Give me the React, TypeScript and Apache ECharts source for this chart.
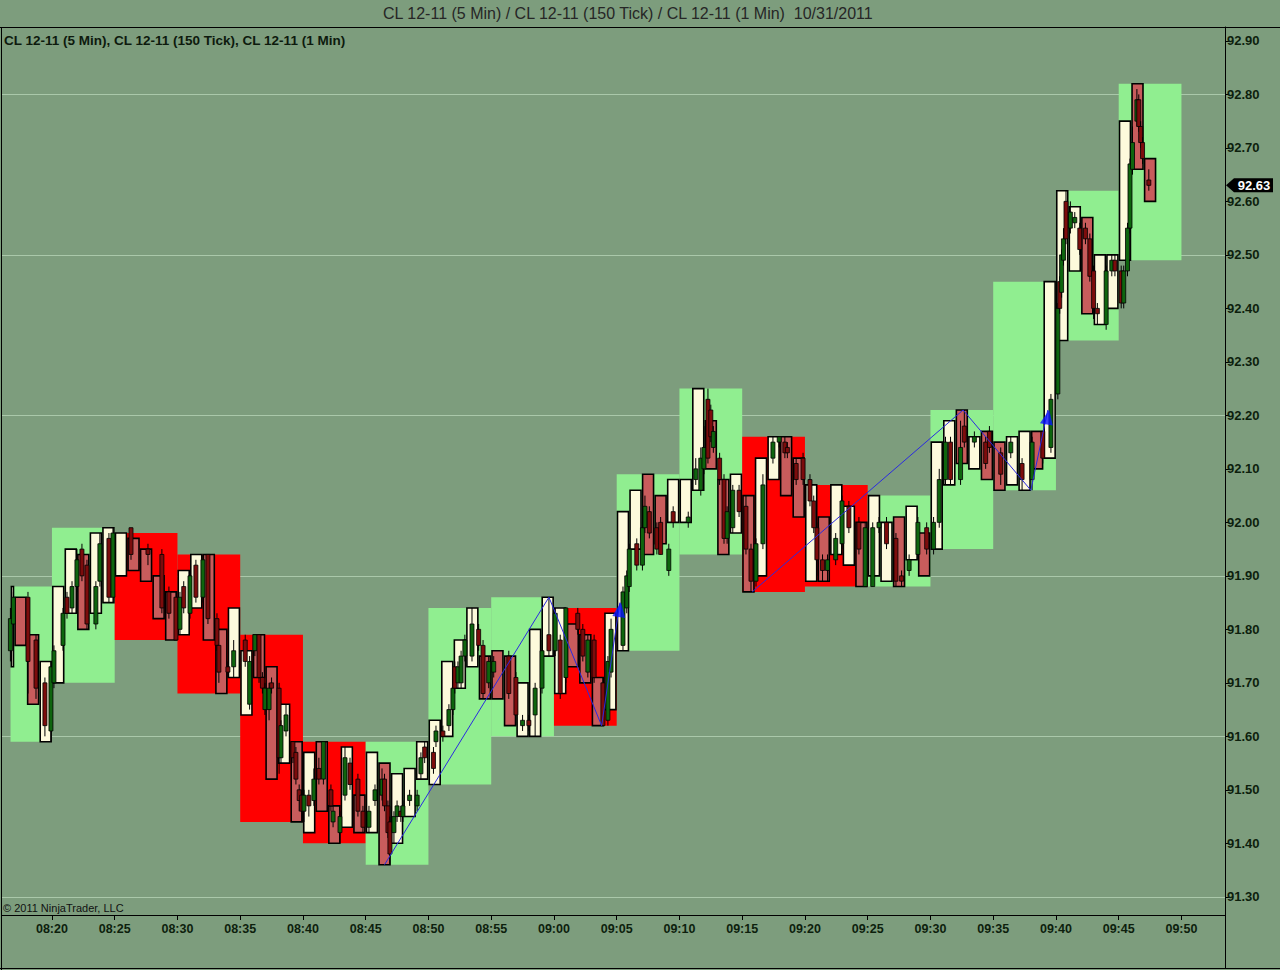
import { useEffect, useRef } from "react";
import * as echarts from "echarts";

const BG = "#7d9d7d";
const FONT = "'Liberation Sans', Arial, sans-serif";

// 5 min bars, drawn as background boxes (x in minutes after 08:00)
const boxStart = [16.7, 20, 25, 30, 35, 40, 45, 50, 55, 60, 65, 70, 75, 80, 85, 90, 95, 100, 105];
const boxHigh = [91.88, 91.99, 91.98, 91.94, 91.79, 91.59, 91.59, 91.84, 91.86, 91.84, 92.09, 92.25, 92.16, 92.07, 92.05, 92.21, 92.45, 92.62, 92.82];
const boxLow = [91.59, 91.70, 91.78, 91.68, 91.44, 91.40, 91.36, 91.51, 91.60, 91.62, 91.76, 91.94, 91.87, 91.88, 91.88, 91.95, 92.06, 92.34, 92.49];
const boxUp = [1, 1, 0, 0, 0, 0, 1, 1, 1, 0, 1, 1, 0, 0, 1, 1, 1, 1, 1];

// 1 min bars, first one at 08:16
const firstMinute = 16;
const minOpen = [
  91.73, 91.86, 91.79, 91.59, 91.70, 91.83, 91.94, 91.83, 91.85, 91.90,
  91.97, 91.95, 91.90, 91.87, 91.79, 91.84, 91.94, 91.80, 91.71, 91.64,
  91.79, 91.73, 91.55, 91.59, 91.42, 91.59, 91.47, 91.43, 91.49, 91.42,
  91.55, 91.40, 91.45, 91.52, 91.51, 91.60, 91.69, 91.73, 91.75, 91.76,
  91.75, 91.60, 91.60, 91.75, 91.68, 91.81, 91.79, 91.71, 91.65, 91.76,
  91.95, 92.09, 92.05, 92.00, 92.00, 92.06, 92.19, 92.08, 91.98, 92.05,
  91.90, 92.08, 92.16, 92.12, 91.89, 92.01, 91.94, 91.92, 92.00, 91.90,
  91.89, 92.01, 91.93, 91.98, 91.95, 92.07, 92.21, 92.10, 92.17, 92.15,
  92.07, 92.06, 92.17, 92.12, 92.34, 92.47, 92.57, 92.37, 92.40, 92.49,
  92.82, 92.68,
];
const minClose = [
  91.88, 91.77, 91.66, 91.74, 91.88, 91.95, 91.80, 91.98, 91.99, 91.98,
  91.91, 91.89, 91.82, 91.78, 91.91, 91.94, 91.78, 91.68, 91.84, 91.76,
  91.71, 91.52, 91.66, 91.44, 91.57, 91.46, 91.40, 91.58, 91.42, 91.57,
  91.36, 91.53, 91.54, 91.59, 91.63, 91.74, 91.78, 91.84, 91.67, 91.67,
  91.62, 91.70, 91.80, 91.86, 91.84, 91.73, 91.70, 91.62, 91.83, 92.02,
  92.06, 91.94, 91.96, 92.08, 92.08, 92.25, 92.10, 91.94, 92.09, 91.87,
  92.12, 92.16, 92.05, 92.01, 92.07, 91.89, 92.07, 92.03, 91.88, 92.05,
  92.00, 91.88, 92.03, 91.90, 92.15, 92.19, 92.11, 92.16, 92.08, 92.06,
  92.16, 92.17, 92.10, 92.45, 92.62, 92.59, 92.39, 92.50, 92.50, 92.75,
  92.66, 92.60,
];

// 150 tick bars: [minute, open, close, low, high]
const tickBars = [
  [16.69, 91.76, 91.82, 91.74, 91.84], [16.93, 91.81, 91.86, 91.80, 91.87], [18.09, 91.86, 91.74, 91.68, 91.87],
  [18.73, 91.78, 91.69, 91.67, 91.79], [19.44, 91.70, 91.62, 91.60, 91.71], [19.92, 91.61, 91.73, 91.59, 91.74],
  [20.16, 91.70, 91.76, 91.69, 91.77], [20.88, 91.77, 91.83, 91.76, 91.84], [21.2, 91.86, 91.83, 91.82, 91.87],
  [21.6, 91.84, 91.88, 91.83, 91.89], [21.99, 91.88, 91.93, 91.87, 91.95], [22.39, 91.95, 91.90, 91.89, 91.96],
  [22.79, 91.92, 91.81, 91.80, 91.93], [23.5, 91.81, 91.88, 91.80, 91.89], [23.82, 91.89, 91.96, 91.88, 91.98],
  [24.54, 91.97, 91.86, 91.85, 91.98], [24.86, 91.86, 91.98, 91.85, 91.99], [26.3, 91.99, 91.94, 91.93, 91.99],
  [27.65, 91.95, 91.94, 91.92, 91.96], [28.76, 91.94, 91.84, 91.83, 91.95], [29.32, 91.87, 91.83, 91.82, 91.88],
  [29.88, 91.86, 91.78, 91.78, 91.87], [30.2, 91.80, 91.86, 91.79, 91.87], [30.5, 91.88, 91.84, 91.83, 91.89],
  [31.0, 91.83, 91.90, 91.82, 91.91], [31.47, 91.92, 91.86, 91.85, 91.93], [32.03, 91.86, 91.93, 91.85, 91.94],
  [32.43, 91.94, 91.82, 91.81, 91.94], [33.15, 91.82, 91.77, 91.76, 91.83], [33.3, 91.77, 91.72, 91.70, 91.77],
  [34.02, 91.73, 91.72, 91.71, 91.74], [34.48, 91.73, 91.76, 91.71, 91.78], [35.4, 91.78, 91.74, 91.73, 91.79],
  [35.75, 91.66, 91.74, 91.65, 91.75], [36.17, 91.76, 91.79, 91.75, 91.79], [36.5, 91.79, 91.71, 91.70, 91.79],
  [36.77, 91.71, 91.69, 91.68, 91.72], [36.97, 91.65, 91.69, 91.64, 91.70], [37.3, 91.65, 91.69, 91.63, 91.70],
  [37.5, 91.70, 91.69, 91.68, 91.71], [38.1, 91.69, 91.56, 91.53, 91.70], [38.25, 91.56, 91.62, 91.55, 91.63],
  [38.65, 91.61, 91.64, 91.60, 91.66], [39.2, 91.59, 91.56, 91.55, 91.59], [39.44, 91.57, 91.52, 91.51, 91.58],
  [39.7, 91.50, 91.48, 91.46, 91.51], [39.9, 91.49, 91.46, 91.44, 91.50], [40.08, 91.46, 91.49, 91.44, 91.50],
  [40.47, 91.49, 91.47, 91.45, 91.50], [40.87, 91.48, 91.52, 91.47, 91.54], [41.27, 91.54, 91.52, 91.51, 91.56],
  [41.63, 91.52, 91.59, 91.51, 91.59], [42.23, 91.50, 91.47, 91.46, 91.51], [42.4, 91.44, 91.46, 91.43, 91.47],
  [42.95, 91.42, 91.45, 91.40, 91.46], [43.35, 91.49, 91.56, 91.48, 91.58], [43.75, 91.55, 91.51, 91.50, 91.56],
  [44.38, 91.52, 91.46, 91.45, 91.53], [44.78, 91.46, 91.43, 91.42, 91.47], [45.26, 91.43, 91.46, 91.42, 91.47],
  [45.74, 91.48, 91.50, 91.47, 91.51], [46.3, 91.49, 91.52, 91.48, 91.54], [46.5, 91.52, 91.47, 91.46, 91.53],
  [46.77, 91.47, 91.42, 91.41, 91.48], [46.93, 91.44, 91.38, 91.36, 91.45], [47.25, 91.42, 91.45, 91.40, 91.46],
  [47.5, 91.45, 91.47, 91.44, 91.48], [47.8, 91.46, 91.45, 91.44, 91.47], [47.97, 91.45, 91.47, 91.44, 91.48],
  [48.5, 91.48, 91.49, 91.47, 91.50], [49.1, 91.47, 91.49, 91.46, 91.50], [49.4, 91.53, 91.56, 91.52, 91.57],
  [49.7, 91.58, 91.56, 91.55, 91.59], [50.4, 91.57, 91.54, 91.53, 91.58], [50.6, 91.59, 91.61, 91.58, 91.62],
  [51.15, 91.61, 91.60, 91.59, 91.62], [51.63, 91.62, 91.65, 91.61, 91.66], [51.95, 91.65, 91.69, 91.64, 91.70],
  [52.1, 91.73, 91.69, 91.68, 91.74], [52.35, 91.70, 91.73, 91.69, 91.74], [52.6, 91.70, 91.75, 91.69, 91.76],
  [52.9, 91.75, 91.78, 91.74, 91.79], [53.47, 91.75, 91.81, 91.74, 91.84], [54.0, 91.80, 91.77, 91.76, 91.81],
  [54.35, 91.77, 91.68, 91.67, 91.78], [54.8, 91.70, 91.74, 91.69, 91.75], [55.2, 91.72, 91.74, 91.71, 91.75],
  [56.4, 91.75, 91.68, 91.67, 91.76], [56.97, 91.71, 91.64, 91.62, 91.72], [57.5, 91.62, 91.63, 91.61, 91.64],
  [58.0, 91.63, 91.62, 91.61, 91.64], [58.5, 91.64, 91.69, 91.60, 91.70], [59.05, 91.69, 91.76, 91.68, 91.78],
  [59.6, 91.79, 91.76, 91.75, 91.86], [60.1, 91.76, 91.83, 91.75, 91.84], [60.5, 91.78, 91.68, 91.67, 91.79],
  [60.95, 91.71, 91.84, 91.70, 91.84], [61.9, 91.83, 91.80, 91.79, 91.84], [62.3, 91.80, 91.75, 91.74, 91.81],
  [62.7, 91.72, 91.78, 91.71, 91.79], [63.2, 91.78, 91.71, 91.70, 91.79], [63.9, 91.70, 91.62, 91.62, 91.71],
  [64.3, 91.63, 91.74, 91.62, 91.75], [64.55, 91.72, 91.80, 91.71, 91.82], [65.5, 91.77, 91.87, 91.76, 91.88],
  [65.8, 91.84, 91.90, 91.83, 91.91], [66.0, 91.88, 91.95, 91.87, 91.96], [66.6, 91.96, 91.92, 91.91, 91.97],
  [67.05, 91.92, 91.99, 91.91, 92.00], [67.25, 91.99, 92.03, 91.98, 92.05], [67.6, 92.02, 91.98, 91.97, 92.03],
  [68.2, 91.99, 91.95, 91.94, 92.00], [68.5, 92.00, 91.94, 91.94, 92.01], [69.15, 91.91, 91.95, 91.90, 91.96],
  [69.5, 92.02, 92.00, 91.99, 92.03], [70.7, 92.00, 92.01, 91.99, 92.02], [71.3, 92.08, 92.10, 92.07, 92.12],
  [71.7, 92.06, 92.12, 92.05, 92.14], [71.95, 92.10, 92.14, 92.09, 92.18], [72.27, 92.23, 92.12, 92.11, 92.25],
  [72.5, 92.21, 92.16, 92.15, 92.22], [72.7, 92.14, 92.17, 92.13, 92.18], [73.2, 92.12, 92.08, 92.07, 92.13],
  [73.55, 92.08, 91.97, 91.96, 92.09], [73.8, 91.97, 92.02, 91.96, 92.03], [74.25, 91.99, 92.06, 91.98, 92.07],
  [74.75, 92.06, 92.02, 92.01, 92.07], [75.3, 92.03, 91.95, 91.94, 92.05], [75.7, 91.95, 91.89, 91.87, 91.96],
  [76.1, 91.89, 91.96, 91.88, 91.97], [76.65, 91.96, 92.07, 91.95, 92.09], [77.45, 92.12, 92.15, 92.11, 92.16],
  [77.95, 92.15, 92.16, 92.14, 92.16], [78.4, 92.15, 92.13, 92.12, 92.16], [78.6, 92.14, 92.13, 92.12, 92.15],
  [79.3, 92.11, 92.08, 92.07, 92.12], [79.85, 92.12, 92.08, 92.07, 92.13], [80.4, 92.08, 92.04, 92.03, 92.09],
  [80.7, 92.04, 91.99, 91.98, 92.05], [80.95, 91.99, 91.93, 91.90, 92.00], [81.4, 91.93, 91.91, 91.89, 91.94],
  [81.8, 91.91, 91.93, 91.89, 91.94], [82.45, 91.93, 91.97, 91.92, 91.98], [82.95, 91.96, 92.04, 91.95, 92.05],
  [83.5, 92.03, 91.99, 91.98, 92.04], [84.3, 92.00, 91.95, 91.94, 92.01], [84.8, 91.88, 91.99, 91.88, 92.00],
  [85.4, 91.88, 91.99, 91.88, 92.00], [85.9, 91.99, 92.00, 91.98, 92.01], [86.5, 92.00, 91.96, 91.95, 92.01],
  [87.25, 91.97, 91.89, 91.88, 91.98], [87.7, 91.90, 91.89, 91.88, 91.91], [88.3, 91.91, 91.93, 91.90, 91.94],
  [89.0, 91.94, 92.00, 91.93, 92.01], [89.7, 91.99, 91.95, 91.94, 92.00], [90.25, 91.95, 92.00, 91.94, 92.01],
  [90.7, 92.00, 92.08, 91.99, 92.10], [91.2, 92.08, 92.15, 92.07, 92.16], [91.6, 92.15, 92.08, 92.07, 92.16],
  [92.4, 92.08, 92.14, 92.07, 92.19], [92.7, 92.18, 92.15, 92.14, 92.21], [93.5, 92.15, 92.16, 92.14, 92.17],
  [94.4, 92.15, 92.11, 92.10, 92.16], [94.7, 92.17, 92.14, 92.13, 92.18], [95.6, 92.13, 92.09, 92.07, 92.14],
  [96.4, 92.13, 92.15, 92.12, 92.16], [97.3, 92.11, 92.08, 92.06, 92.12], [98.1, 92.08, 92.15, 92.06, 92.16],
  [98.95, 92.17, 92.12, 92.11, 92.17], [99.6, 92.14, 92.23, 92.13, 92.24], [100.15, 92.24, 92.40, 92.23, 92.41],
  [100.3, 92.45, 92.40, 92.39, 92.46], [100.45, 92.43, 92.50, 92.42, 92.51], [100.6, 92.49, 92.53, 92.48, 92.55],
  [100.8, 92.60, 92.53, 92.52, 92.62], [101.15, 92.55, 92.58, 92.54, 92.60], [101.5, 92.56, 92.57, 92.55, 92.58],
  [101.9, 92.55, 92.51, 92.50, 92.56], [102.35, 92.55, 92.53, 92.52, 92.56], [102.7, 92.53, 92.46, 92.45, 92.54],
  [103.0, 92.47, 92.40, 92.38, 92.48], [103.3, 92.40, 92.39, 92.37, 92.41], [104.0, 92.37, 92.47, 92.36, 92.48],
  [104.45, 92.47, 92.49, 92.46, 92.50], [104.7, 92.49, 92.47, 92.46, 92.50], [105.2, 92.47, 92.41, 92.40, 92.48],
  [105.4, 92.41, 92.47, 92.40, 92.48], [105.7, 92.47, 92.55, 92.46, 92.56], [105.9, 92.55, 92.67, 92.54, 92.68],
  [106.1, 92.66, 92.71, 92.65, 92.74], [106.45, 92.75, 92.79, 92.74, 92.81], [106.6, 92.79, 92.74, 92.73, 92.80],
  [106.75, 92.74, 92.71, 92.70, 92.75], [106.9, 92.71, 92.68, 92.67, 92.72], [107.4, 92.64, 92.63, 92.62, 92.66],
];

// zigzag swings, the last point of each carries an arrow
const zigzag1 = [[46.5, 91.36], [59.6, 91.86], [63.8, 91.62], [65.25, 91.85]];
const zigzag2 = [[75.8, 91.87], [92.6, 92.21], [98.0, 92.06], [99.35, 92.21]];
const arrowRotate = [-8, -11];

const lastPrice = 92.63;
const priceTicks = [91.3, 91.4, 91.5, 91.6, 91.7, 91.8, 91.9, 92.0, 92.1, 92.2, 92.3, 92.4, 92.5, 92.6, 92.7, 92.8, 92.9];
const gridPrices = [91.3, 91.6, 91.9, 92.2, 92.5, 92.8];
const timeTicks = [20, 25, 30, 35, 40, 45, 50, 55, 60, 65, 70, 75, 80, 85, 90, 95, 100, 105, 110];

const X_MIN = 16.02;
const X_MAX = 113.47;
const Y_MIN = 91.266;
const Y_MAX = 92.926;

const hhmm = (m: number) => {
  const h = 8 + Math.floor(m / 60);
  const mm = Math.round(m % 60);
  return String(h).padStart(2, "0") + ":" + String(mm).padStart(2, "0");
};

export default function App() {
  const ref = useRef<HTMLDivElement>(null);

  useEffect(() => {
    if (!ref.current) return;
    const chart = echarts.init(ref.current, null, { renderer: "svg" });

    const boxes = boxStart.map((s, i) => [s, boxStart[i + 1] ?? s + 5, boxLow[i], boxHigh[i], boxUp[i]]);
    const minutes = minOpen.map((o, i) => [firstMinute + i, o, minClose[i]]);

    chart.setOption({
      animation: false,
      backgroundColor: BG,
      textStyle: { fontFamily: FONT },
      title: [
        {
          text: "CL 12-11 (5 Min) / CL 12-11 (150 Tick) / CL 12-11 (1 Min)  10/31/2011",
          left: 383, top: 5, padding: 0,
          textStyle: { fontSize: 16, fontWeight: "normal", color: "#262626", fontFamily: FONT },
        },
        {
          text: "CL 12-11 (5 Min), CL 12-11 (150 Tick), CL 12-11 (1 Min)",
          left: 4, top: 33, padding: 0,
          textStyle: { fontSize: 13.5, fontWeight: "bold", color: "#0d1a0d", fontFamily: FONT },
        },
        {
          text: "© 2011 NinjaTrader, LLC",
          left: 3, top: 902, padding: 0,
          textStyle: { fontSize: 11, fontWeight: "normal", color: "#111", fontFamily: FONT },
        },
      ],
      grid: { left: 2, right: 55, top: 27, bottom: 55 },
      xAxis: {
        type: "value",
        min: X_MIN,
        max: X_MAX,
        splitLine: { show: false },
        axisLine: { show: true, onZero: false, lineStyle: { color: "#000", width: 1 } },
        axisTick: { show: true, customValues: timeTicks, length: 5, lineStyle: { color: "#000" } },
        axisLabel: {
          customValues: timeTicks,
          formatter: (v: number) => hhmm(v),
          fontSize: 12.5, fontWeight: "bold", color: "#0d1f0d", margin: 7, fontFamily: FONT,
        },
      },
      yAxis: {
        type: "value",
        position: "right",
        min: Y_MIN,
        max: Y_MAX,
        splitLine: { show: false },
        axisLine: { show: true, onZero: false, lineStyle: { color: "#000", width: 1 } },
        axisTick: { show: true, customValues: priceTicks, length: 4, lineStyle: { color: "#000" } },
        axisLabel: {
          customValues: priceTicks,
          formatter: (v: number) => v.toFixed(2),
          fontSize: 13, fontWeight: "bold", color: "#0d1f0d", margin: 2, fontFamily: FONT,
        },
      },
      graphic: [
        { type: "line", shape: { x1: 0, y1: 27.5, x2: 1280, y2: 27.5 }, style: { stroke: "#000", lineWidth: 1 } },
        { type: "line", shape: { x1: 1.5, y1: 27, x2: 1.5, y2: 970 }, style: { stroke: "#000", lineWidth: 1 } },
        { type: "line", shape: { x1: 0, y1: 968.5, x2: 1280, y2: 968.5 }, style: { stroke: "#000", lineWidth: 1 } },
        { type: "line", shape: { x1: 1225.5, y1: 915, x2: 1225.5, y2: 969 }, style: { stroke: "#000", lineWidth: 1 } },
      ],
      series: [
        {
          type: "custom",
          z: 1,
          silent: true,
          data: gridPrices.map((p) => [X_MIN, p]),
          encode: { x: 0, y: 1 },
          renderItem: (params: any, api: any) => {
            const y = Math.round(api.coord([X_MIN, api.value(1)])[1]) + 0.5;
            const cs = params.coordSys;
            return {
              type: "line",
              shape: { x1: cs.x, y1: y, x2: cs.x + cs.width, y2: y },
              style: { stroke: "#aac8aa", lineWidth: 1 },
            };
          },
        },
        {
          type: "custom",
          z: 2,
          data: boxes,
          encode: { x: [0, 1], y: [2, 3] },
          renderItem: (_p: any, api: any) => {
            const a = api.coord([api.value(0), api.value(3)]);
            const b = api.coord([api.value(1), api.value(2)]);
            return {
              type: "rect",
              shape: { x: a[0], y: a[1], width: b[0] - a[0], height: b[1] - a[1] },
              style: { fill: api.value(4) ? "#90ee90" : "#ff0000" },
            };
          },
        },
        {
          type: "custom",
          z: 3,
          data: minutes,
          encode: { x: 0, y: [1, 2] },
          renderItem: (_p: any, api: any) => {
            const m = api.value(0);
            const o = api.value(1);
            const c = api.value(2);
            const a = api.coord([Math.max(m, boxStart[0]), Math.max(o, c)]);
            const b = api.coord([m + 1, Math.min(o, c)]);
            return {
              type: "rect",
              shape: { x: a[0] + 0.8, y: a[1], width: b[0] - a[0] - 1.6, height: Math.max(1, b[1] - a[1]) },
              style: { fill: c >= o ? "#fdfadc" : "#c85c5c", stroke: "#000", lineWidth: 1.6 },
            };
          },
        },
        {
          type: "custom",
          z: 4,
          data: tickBars,
          encode: { x: 0, y: [3, 4] },
          renderItem: (_p: any, api: any) => {
            const m = api.value(0);
            const o = api.value(1);
            const c = api.value(2);
            const x = api.coord([m, o])[0];
            const yo = api.coord([m, o])[1];
            const yc = api.coord([m, c])[1];
            const yl = api.coord([m, api.value(3)])[1];
            const yh = api.coord([m, api.value(4)])[1];
            return {
              type: "group",
              children: [
                { type: "line", shape: { x1: x, y1: yh, x2: x, y2: yl }, style: { stroke: "#000", lineWidth: 1 } },
                {
                  type: "rect",
                  shape: { x: x - 2, y: Math.min(yo, yc), width: 4, height: Math.max(1.5, Math.abs(yo - yc)) },
                  style: { fill: c >= o ? "#0e650e" : "#7c0c0c", stroke: "#000", lineWidth: 0.8 },
                },
              ],
            };
          },
        },
        {
          type: "line",
          z: 5,
          data: zigzag1,
          symbol: "none",
          silent: true,
          lineStyle: { color: "#2a2ae0", width: 1 },
        },
        {
          type: "line",
          z: 5,
          data: zigzag2,
          symbol: "none",
          silent: true,
          lineStyle: { color: "#2a2ae0", width: 1 },
        },
        {
          type: "scatter",
          z: 6,
          silent: true,
          symbol: "triangle",
          symbolSize: [13, 15],
          symbolOffset: [0, 7],
          itemStyle: { color: "#0a14ff" },
          data: [zigzag1[zigzag1.length - 1], zigzag2[zigzag2.length - 1]].map((p, i) => ({
            value: p,
            symbolRotate: arrowRotate[i],
          })),
        },
        {
          type: "custom",
          z: 10,
          clip: false,
          silent: true,
          data: [[X_MAX, lastPrice]],
          encode: { x: 0, y: 1 },
          renderItem: (params: any, api: any) => {
            const y = api.coord([X_MAX, api.value(1)])[1];
            const cs = params.coordSys;
            const x0 = cs.x + cs.width + 1;
            return {
              type: "group",
              children: [
                {
                  type: "polygon",
                  shape: { points: [[x0, y], [x0 + 8, y - 7], [x0 + 47, y - 7], [x0 + 47, y + 7], [x0 + 8, y + 7]] },
                  style: { fill: "#000" },
                },
                {
                  type: "text",
                  style: {
                    text: api.value(1).toFixed(2), x: x0 + 28, y,
                    fill: "#fff", font: "bold 13px " + FONT, align: "center", verticalAlign: "middle",
                  },
                },
              ],
            };
          },
        },
      ],
    });

    return () => chart.dispose();
  }, []);

  return (
    <div
      ref={ref}
      style={{ position: "fixed", left: 0, top: 0, width: 1280, height: 970, background: BG }}
    />
  );
}
